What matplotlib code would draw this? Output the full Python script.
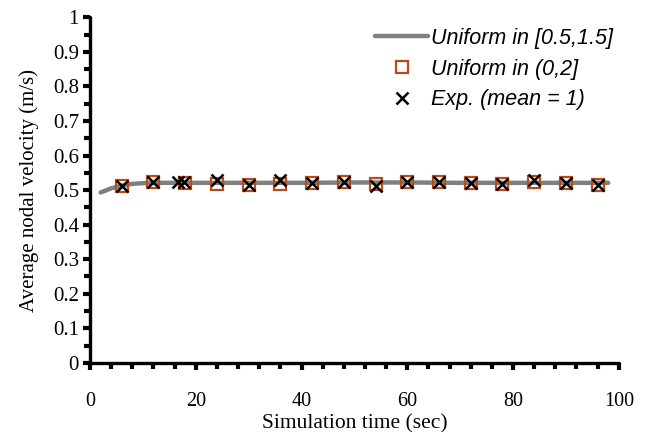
import matplotlib
matplotlib.use("Agg")
import matplotlib.pyplot as plt
from matplotlib.ticker import MultipleLocator, FuncFormatter

plt.rcParams["font.family"] = "serif"
plt.rcParams["font.serif"] = ["Liberation Serif", "DejaVu Serif"]

# Uniform in [0.5,1.5] (line)
t_line = [2, 4, 6, 8, 10, 14, 20, 30, 40, 50, 60, 70, 80, 90, 98]
v_line = [0.493, 0.505, 0.513, 0.518, 0.520, 0.521, 0.521, 0.521, 0.521, 0.522,
          0.522, 0.521, 0.521, 0.521, 0.521]

# Uniform in (0,2] (squares)
t_sq = [6, 12, 18, 24, 30, 36, 42, 48, 54, 60, 66, 72, 78, 84, 90, 96]
v_sq = [0.512, 0.522, 0.520, 0.517, 0.515, 0.518, 0.520, 0.522, 0.518, 0.523,
        0.523, 0.520, 0.518, 0.524, 0.520, 0.515]

# Exp. (mean = 1) (crosses)
t_ex = [6, 12, 16.6, 17.8, 24, 30, 36, 42, 48, 54, 60, 66, 72, 78, 84, 90, 96]
v_ex = [0.512, 0.523, 0.523, 0.523, 0.528, 0.515, 0.528, 0.520, 0.522, 0.512,
        0.523, 0.523, 0.520, 0.518, 0.528, 0.520, 0.515]

labels = ["Uniform in [0.5,1.5]", "Uniform in (0,2]", "Exp. (mean = 1)"]

fig = plt.figure(figsize=(6.59, 4.32), dpi=100)
ax = fig.add_axes([0.1366, 0.160, 0.8024, 0.800])

ax.plot(t_line, v_line, '-', color='#808080', linewidth=3.2, solid_capstyle='round',
        label=labels[0], zorder=1)
ax.plot(t_sq, v_sq, 's', markersize=8, markerfacecolor='none', markeredgecolor='#B94A1C',
        markeredgewidth=1.6, label=labels[1], zorder=2)
ax.plot(t_ex, v_ex, 'x', markersize=8, color='black', markeredgewidth=1.8,
        label=labels[2], zorder=3)

ax.set_xlim(0, 100)
ax.set_ylim(0, 1)
ax.xaxis.set_major_locator(MultipleLocator(20))
ax.xaxis.set_minor_locator(MultipleLocator(4))
ax.yaxis.set_major_locator(MultipleLocator(0.1))
ax.yaxis.set_minor_locator(MultipleLocator(0.05))
ax.yaxis.set_major_formatter(FuncFormatter(lambda v, p: "%g" % round(v, 1)))

for s in ["top", "right"]:
    ax.spines[s].set_visible(False)
for s in ["left", "bottom"]:
    ax.spines[s].set_linewidth(2.4)
    ax.spines[s].set_capstyle('round')

ax.tick_params(axis='y', which='major', direction='out', length=5, width=3, pad=3, labelsize=15)
ax.tick_params(axis='y', which='minor', direction='out', length=4, width=3)
ax.tick_params(axis='x', which='major', direction='out', length=5, width=3, pad=16, labelsize=14.5)
ax.tick_params(axis='x', which='minor', direction='out', length=4, width=3)

ax.set_xlabel("Simulation time (sec)", fontsize=15.5, labelpad=2)
ax.set_ylabel("Average nodal velocity (m/s)", fontsize=15, labelpad=10)

leg = ax.legend(loc='upper right', frameon=False, handlelength=2.45, numpoints=1,
                prop={'family': 'Liberation Sans', 'style': 'italic', 'size': 15.5},
                labelspacing=0.45, handletextpad=0.15, borderaxespad=0,
                bbox_to_anchor=(1.006, 0.994))

fig.savefig("out.png", dpi=100)
